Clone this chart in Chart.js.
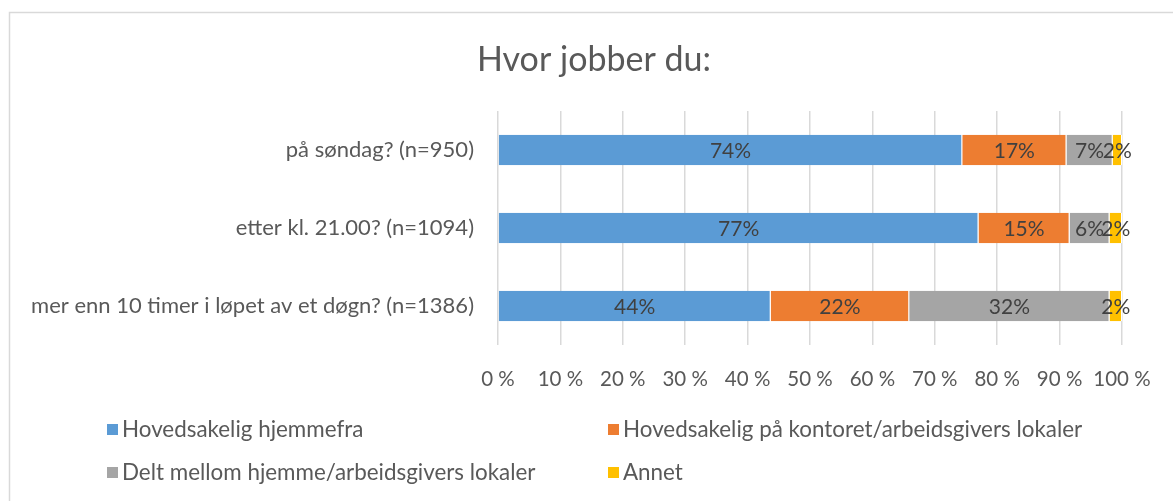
<!DOCTYPE html>
<html>
<head>
<meta charset="utf-8">
<script src="https://cdn.jsdelivr.net/npm/chart.js@4/dist/chart.umd.min.js"></script>
<style>
  body { margin: 0; background: #fff; }
  #wrap { width: 1173px; height: 501px; }
</style>
</head>
<body>
<div id="wrap"><canvas id="graf" width="1173" height="501"></canvas></div>
<script>
// data (percent of respondents)
const kategorier = [
  "på søndag? (n=950)",
  "etter kl. 21.00? (n=1094)",
  "mer enn 10 timer i løpet av et døgn? (n=1386)"
];
const serieNavn = [
  "Hovedsakelig hjemmefra",
  "Hovedsakelig på kontoret/arbeidsgivers lokaler",
  "Delt mellom hjemme/arbeidsgivers lokaler",
  "Annet"
];
const hjemmefra = [74.4, 77.0, 43.7];
const kontoret = [16.7, 14.6, 22.2];
const delt = [7.4, 6.4, 32.1];
const annet = [1.5, 2.0, 2.0];
const xTicks = [0, 10, 20, 30, 40, 50, 60, 70, 80, 90, 100];

const farger = ["#5B9BD5", "#ED7D31", "#A5A5A5", "#FFC000"];
const FONT = "Lato, 'Noto Sans', sans-serif";

// tekst, legende og ramme tegnes selv
const egneTegninger = {
  id: "egneTegninger",
  afterDraw(chart) {
    const ctx = chart.ctx;
    ctx.save();

    // ramme
    ctx.strokeStyle = "#d9d9d9";
    ctx.lineWidth = 1.5;
    ctx.strokeRect(9.5, 12.5, 1300, 600);

    // tittel
    ctx.fillStyle = "#595959";
    ctx.font = "34px " + FONT;
    ctx.textAlign = "center";
    ctx.textBaseline = "middle";
    ctx.fillText("Hvor jobber du:", 594, 60);

    // verdietiketter
    ctx.font = "21px " + FONT;
    ctx.fillStyle = "#404040";
    chart.data.datasets.forEach((ds, i) => {
      const meta = chart.getDatasetMeta(i);
      meta.data.forEach((bar, j) => {
        const v = ds.data[j];
        const midt = (bar.x + bar.base) / 2;
        ctx.fillText(Math.round(v) + "%", midt, bar.y + 1);
      });
    });

    // legende
    const pos = [[107, 430], [608, 430], [107, 473], [608, 473]];
    ctx.font = "22.4px " + FONT;
    ctx.textAlign = "left";
    serieNavn.forEach((navn, i) => {
      const [x, y] = pos[i];
      ctx.fillStyle = farger[i];
      ctx.fillRect(x, y - 6, 11, 11);
      ctx.fillStyle = "#595959";
      ctx.fillText(navn, x + 15, y);
    });

    ctx.restore();
  }
};

const lagSerie = (i, data) => ({
  label: serieNavn[i],
  data: data,
  backgroundColor: farger[i],
  borderColor: "#ffffff",
  borderWidth: { left: 0, right: 1, top: 0, bottom: 0 },
  borderSkipped: false,
  categoryPercentage: 1,
  barPercentage: 0.39
});

new Chart(document.getElementById("graf"), {
  type: "bar",
  data: {
    labels: kategorier,
    datasets: [
      lagSerie(0, hjemmefra),
      lagSerie(1, kontoret),
      lagSerie(2, delt),
      lagSerie(3, annet)
    ]
  },
  options: {
    indexAxis: "y",
    responsive: false,
    animation: false,
    layout: { padding: { top: 111, right: 51, left: 0, bottom: 0 } },
    plugins: {
      legend: { display: false },
      title: { display: false },
      tooltip: { enabled: false }
    },
    scales: {
      x: {
        stacked: true,
        min: 0,
        max: 100,
        afterBuildTicks: (scale) => {
          scale.ticks = xTicks.map((v) => ({ value: v }));
        },
        afterFit: (scale) => { scale.height = 156; },
        grid: { color: "#d9d9d9", lineWidth: 1.5, drawTicks: false },
        border: { display: false },
        ticks: {
          padding: 22,
          color: "#595959",
          autoSkip: false,
          maxRotation: 0,
          minRotation: 0,
          font: { family: FONT, size: 20.5 },
          callback: (v) => v + " %"
        }
      },
      y: {
        stacked: true,
        afterFit: (scale) => { scale.width = 498; },
        grid: { display: false, drawTicks: false },
        border: { display: false },
        ticks: {
          padding: 24,
          color: "#595959",
          font: { family: FONT, size: 22 }
        }
      }
    }
  },
  plugins: [egneTegninger]
});
</script>
</body>
</html>
